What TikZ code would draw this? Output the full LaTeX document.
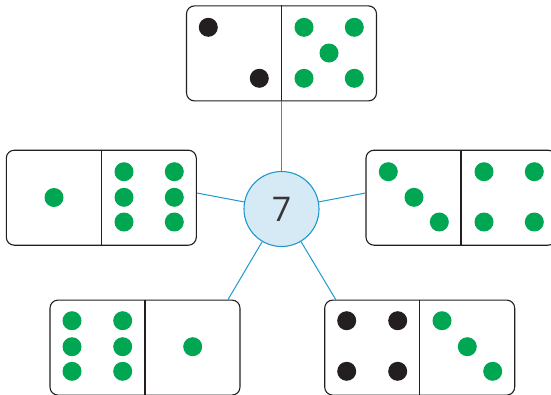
\documentclass[tikz,border=0pt]{standalone}
\usepackage{fontspec}
\setsansfont{Open Sans}
\usetikzlibrary{calc}
\definecolor{pipgreen}{HTML}{00A651}
\definecolor{pipblack}{HTML}{231F20}
\definecolor{linkblue}{HTML}{1E98CF}
\definecolor{numfill}{HTML}{D6EAF5}

\begin{document}
\begin{tikzpicture}[x=1pt, y=-1pt,
  domino/.style={draw=pipblack, line width=1.1pt, rounded corners=8pt,
    fill=white, minimum width=190pt, minimum height=95pt, inner sep=0pt},
  link/.style={draw=linkblue, line width=1pt}]
  \useasboundingbox (0,0) rectangle (551,394);
  \clip (0,0) rectangle (551,394);

  % the sum in the middle
  \node[circle, draw=linkblue, line width=1.1pt, fill=numfill,
    minimum size=75pt, inner sep=0pt,
    font=\sffamily\fontsize{34}{34}\selectfont, text=pipblack!90] (seven) at (281.5,209) {7};

  % dominoes
  \node[domino] (dtop)   at (281.5,53.4)  {};
  \node[domino] (dleft)  at (101.3,197.7) {};
  \node[domino] (dright) at (461,197.7)   {};
  \node[domino] (dbl)    at (145,347.6)   {};
  \node[domino] (dbr)    at (419.7,347.6) {};
  \foreach \d in {dtop,dleft,dright,dbl,dbr}
    \draw[pipblack, line width=1.1pt] (\d.north) -- (\d.south);

  % pips
  \foreach \p in {(208.3,27.3),(259.3,78.3),
                  (346.7,320.7),(397.7,320.7),(346.7,371.3),(397.7,371.3)}
    \fill[pipblack] \p circle (9.5pt);
  \foreach \p in {(304,27.3),(354.3,27.3),(329,53),(304,78.3),(354.3,78.3),
                  (54,197.5),(124,171.7),(174.3,171.7),(124,197.3),(174.3,197.3),(124,222),(174.3,222),
                  (388.3,171.7),(414,197.3),(439.3,222),(484,171.7),(534.3,171.7),(484,222),(534.3,222),
                  (72,320.7),(122.7,320.7),(72,346.7),(122.7,346.7),(72,371.3),(122.7,371.3),(192.7,346.7),
                  (442,320.7),(467.3,346.7),(492.7,371.3)}
    \fill[pipgreen] \p circle (9.5pt);

  % connectors
  \coordinate (jleft)  at ([yshift=4.7pt]dleft.east);
  \coordinate (jright) at ([yshift=4.7pt]dright.west);
  \coordinate (jbl)    at ([xshift=83pt]dbl.north);
  \coordinate (jbr)    at ([xshift=-84pt]dbr.north);
  \draw[link] (seven) -- (dtop);
  \draw[link] (seven) -- (jleft);
  \draw[link] (seven) -- (jright);
  \draw[link] (seven) -- (jbl);
  \draw[link] (seven) -- (jbr);
\end{tikzpicture}
\end{document}
